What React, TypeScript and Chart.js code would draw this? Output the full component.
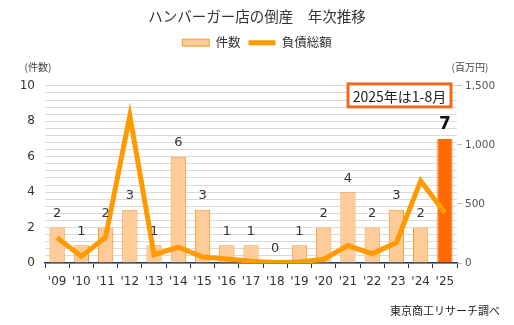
import React, { useEffect, useRef } from 'react';
import { Chart, registerables } from 'chart.js';

Chart.register(...registerables);

const years = ["'09", "'10", "'11", "'12", "'13", "'14", "'15", "'16", "'17", "'18", "'19", "'20", "'21", "'22", "'23", "'24", "'25"];
const counts = [2, 1, 2, 3, 1, 6, 3, 1, 1, 0, 1, 2, 4, 2, 3, 2, 7];
const debt = [213, 56, 219, 1247, 70, 135, 50, 34, 14, 5, 8, 31, 148, 78, 173, 695, 425];
const leftTickLabels = [0, 2, 4, 6, 8, 10];
const rightTickLabels = [0, 500, 1000, 1500];

const FONT = "'DejaVu Sans', 'Noto Sans CJK JP', sans-serif";
const JFONT = "'Noto Sans CJK JP', 'DejaVu Sans', sans-serif";

const BAR_FILL = '#FFCB98';
const BAR_BORDER = '#F39A2E';
const BAR_LAST = '#FF6A00';
const LINE_COLOR = '#FF9A00';

const overlayPlugin = {
  id: 'overlay',
  afterDatasetsDraw(chart: any) {
    const ctx = chart.ctx;
    const area = chart.chartArea;
    ctx.save();
    // bar value labels
    const barIndex = chart.data.datasets.findIndex((d: any) => d.type === 'bar');
    const meta = chart.getDatasetMeta(barIndex);
    meta.data.forEach((el: any, i: number) => {
      const last = i === counts.length - 1;
      ctx.font = last ? `bold 17px ${FONT}` : `13px ${FONT}`;
      ctx.fillStyle = last ? '#111' : '#333';
      ctx.textAlign = 'center';
      ctx.textBaseline = 'middle';
      ctx.fillText(String(counts[i]), el.x, el.y - 14);
    });
    // axis unit titles
    ctx.font = `10px ${JFONT}`;
    ctx.fillStyle = '#444';
    ctx.textAlign = 'center';
    ctx.fillText('(件数)', area.left - 7, area.top - 19);
    ctx.fillText('(百万円)', area.right + 13, area.top - 19);
    // note box
    const bx = area.right - 109;
    const by = area.top - 2;
    const bw = 103;
    const bh = 23;
    ctx.fillStyle = '#fff';
    ctx.fillRect(bx, by, bw, bh);
    ctx.lineWidth = 3;
    ctx.strokeStyle = '#F06A1E';
    ctx.strokeRect(bx, by, bw, bh);
    ctx.fillStyle = '#222';
    ctx.font = `14px ${JFONT}`;
    ctx.fillText('2025年は1-8月', bx + bw / 2, by + bh / 2 + 1);
    // source
    ctx.font = `11px ${JFONT}`;
    ctx.textAlign = 'right';
    ctx.fillStyle = '#222';
    ctx.fillText('東京商工リサーチ調べ', chart.width - 14, chart.height - 14);
    ctx.restore();
  },
};

export default function App() {
  const ref = useRef<HTMLCanvasElement>(null);
  useEffect(() => {
    if (!ref.current) return;
    const chart = new Chart(ref.current, {
      type: 'bar',
      data: {
        labels: years,
        datasets: [
          {
            type: 'line',
            label: '負債総額',
            data: debt,
            yAxisID: 'y1',
            borderColor: LINE_COLOR,
            backgroundColor: LINE_COLOR,
            borderWidth: 5,
            pointRadius: 0,
            tension: 0,
            borderJoinStyle: 'miter',
            pointStyle: 'line',
            order: 0,
          } as any,
          {
            type: 'bar',
            label: '件数',
            data: counts,
            yAxisID: 'y',
            backgroundColor: counts.map((_, i) => (i === counts.length - 1 ? BAR_LAST : BAR_FILL)),
            borderColor: counts.map((_, i) => (i === counts.length - 1 ? BAR_LAST : BAR_BORDER)),
            borderWidth: 1,
            barPercentage: 0.63,
            categoryPercentage: 1,
            pointStyle: 'rect',
            order: 1,
          } as any,
        ],
      },
      options: {
        animation: false,
        responsive: true,
        maintainAspectRatio: false,
        layout: { padding: 0 },
        plugins: {
          title: {
            display: true,
            text: 'ハンバーガー店の倒産　年次推移',
            font: { size: 14.5, family: JFONT, weight: 'normal' },
            color: '#333',
            padding: { top: 8, bottom: 3 },
          },
          legend: {
            display: true,
            reverse: true,
            labels: {
              usePointStyle: true,
              pointStyleWidth: 27,
              boxHeight: 7,
              padding: 8,
              color: '#333',
              font: { size: 12.5, family: JFONT },
            },
          },
          tooltip: { enabled: false },
        },
        scales: {
          x: {
            position: 'bottom',
            grid: { display: true, offset: true, drawOnChartArea: false, drawTicks: true, tickLength: 5, color: '#1F3864' },
            border: { display: true, color: '#1F3864', width: 1.5 },
            ticks: { color: '#333', font: { size: 12, family: FONT }, padding: 7, maxRotation: 0, autoSkip: false },
            afterFit: (s: any) => { s.height = 62; },
          },
          xTop: {
            type: 'category',
            position: 'top',
            display: true,
            grid: { display: false, drawTicks: false },
            border: { display: false },
            ticks: { display: false },
            afterFit: (s: any) => { s.height = 27; },
          },
          y: {
            position: 'left',
            min: 0,
            max: 10,
            grid: { color: '#DADADA', drawTicks: false },
            border: { display: false },
            ticks: {
              stepSize: 0.4,
              padding: 10,
              color: '#333',
              font: { size: 12, family: FONT },
              autoSkip: false,
              callback: (v: any) => (leftTickLabels.some((t) => Math.abs(t - v) < 1e-6) ? String(Math.round(v)) : ''),
            },
            afterFit: (s: any) => { s.width = 45; },
          },
          y1: {
            position: 'right',
            min: 0,
            max: 1500,
            grid: { drawOnChartArea: false, drawTicks: true, tickLength: 5, color: '#BFBFBF' },
            border: { display: false },
            ticks: {
              stepSize: 500,
              padding: 3,
              color: '#555',
              font: { size: 10.5, family: FONT },
              callback: (v: any) => (rightTickLabels.includes(v) ? Number(v).toLocaleString('en-US') : ''),
            },
            afterFit: (s: any) => { s.width = 57; },
          },
        },
      } as any,
      plugins: [overlayPlugin],
    });
    return () => chart.destroy();
  }, []);
  return (
    <div style={{ position: 'fixed', left: 0, top: 0, width: 514, height: 325, background: '#fff' }}>
      <canvas ref={ref} />
    </div>
  );
}
